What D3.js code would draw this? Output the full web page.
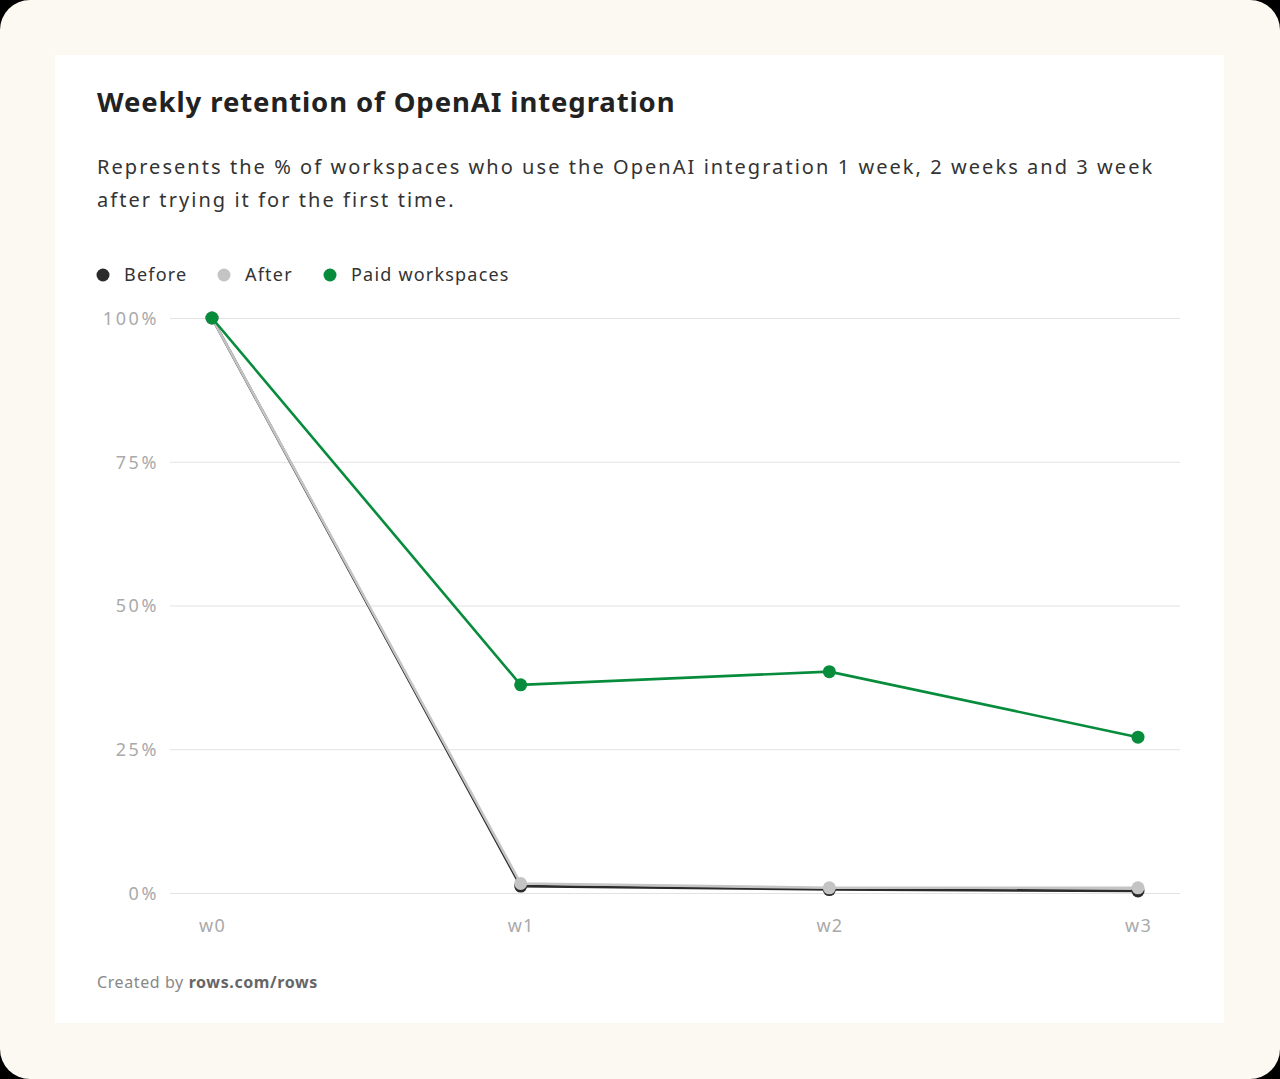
<!DOCTYPE html>
<html><head><meta charset="utf-8">
<script src="https://cdn.jsdelivr.net/npm/d3@7"></script>
<style>
html,body{margin:0;padding:0;background:#000;}
#bg{position:absolute;left:0;top:0;width:1280px;height:1079px;background:#fbf9f1;border-radius:30px;overflow:hidden;}
svg{position:absolute;left:0;top:0;}
text{font-family:"Noto Sans",sans-serif;}
</style></head>
<body><div id="bg"></div><svg id="c" width="1280" height="1079"></svg>
<script>
const weeks = ["w0","w1","w2","w3"];
const seriesNames = ["Before","After","Paid workspaces"];
const before = [100, 1.2, 0.6, 0.35];
const after = [100, 1.65, 0.9, 0.9];
const paid = [100, 36.2, 38.5, 27.1];
const yTicks = [0, 25, 50, 75, 100];
const colors = {"Before":"#2b2b2b","After":"#c4c4c4","Paid workspaces":"#078c3c"};

const svg = d3.select("#c");
svg.append("rect").attr("x",55).attr("y",55).attr("width",1169).attr("height",968).attr("fill","#fff");

svg.append("text").attr("x",97).attr("y",112).attr("font-size",27.5).attr("font-weight",700).attr("fill","#222")
  .attr("letter-spacing",0.9).text("Weekly retention of OpenAI integration");
const sub = svg.append("text").attr("font-size",20).attr("fill","#333").attr("letter-spacing",2.05);
sub.append("tspan").attr("x",97).attr("y",174).text("Represents the % of workspaces who use the OpenAI integration 1 week, 2 weeks and 3 week");
sub.append("tspan").attr("x",97).attr("y",207).text("after trying it for the first time.");

const x = d3.scalePoint().domain(weeks).range([212,1138]);
const y = d3.scaleLinear().domain([0,100]).range([893,318]);

// grid
const yAxis = d3.axisLeft(y).tickValues(yTicks).tickFormat(d=>d+"%").tickSize(-(1180-170)).tickPadding(11);
const gy = svg.append("g").attr("transform","translate(170,0)").call(yAxis);
gy.select(".domain").remove();
gy.selectAll(".tick line").attr("stroke","#e2e2e2").attr("stroke-width",1.2);
gy.selectAll(".tick text").attr("font-size",18).attr("fill","#aaa").attr("font-family","Noto Sans, sans-serif")
  .attr("letter-spacing",2.6).attr("dy","0.35em");

const xAxis = d3.axisBottom(x).tickSize(0).tickPadding(33);
const gx = svg.append("g").attr("transform","translate(0,893)").call(xAxis);
gx.select(".domain").remove();
gx.selectAll(".tick text").attr("font-size",18).attr("fill","#aaa").attr("font-family","Noto Sans, sans-serif")
  .attr("letter-spacing",1.2).attr("dy","0.35em");

const data = [["Before",before],["After",after],["Paid workspaces",paid]];
const line = d3.line().x((d,i)=>x(weeks[i])).y(d=>y(d));
data.forEach(([name,vals])=>{
  svg.append("path").attr("d",line(vals)).attr("fill","none").attr("stroke",colors[name]).attr("stroke-width",2.6);
  svg.selectAll(null).data(vals).enter().append("circle")
    .attr("cx",(d,i)=>x(weeks[i])).attr("cy",d=>y(d)).attr("r",6.5).attr("fill",colors[name]);
});

// legend
const legX = [103, 224, 330];
data.forEach(([name],i)=>{
  svg.append("circle").attr("cx",legX[i]).attr("cy",275).attr("r",6.5).attr("fill",colors[name]);
  svg.append("text").attr("x",legX[i]+21).attr("y",281).attr("font-size",18).attr("fill","#333").attr("letter-spacing",1.2).text(name);
});

const foot = svg.append("text").attr("x",97).attr("y",988).attr("font-size",16).attr("fill","#888").attr("letter-spacing",0.6);
foot.append("tspan").text("Created by ");
foot.append("tspan").attr("font-weight",700).attr("fill","#666").text("rows.com/rows");
</script></body></html>
